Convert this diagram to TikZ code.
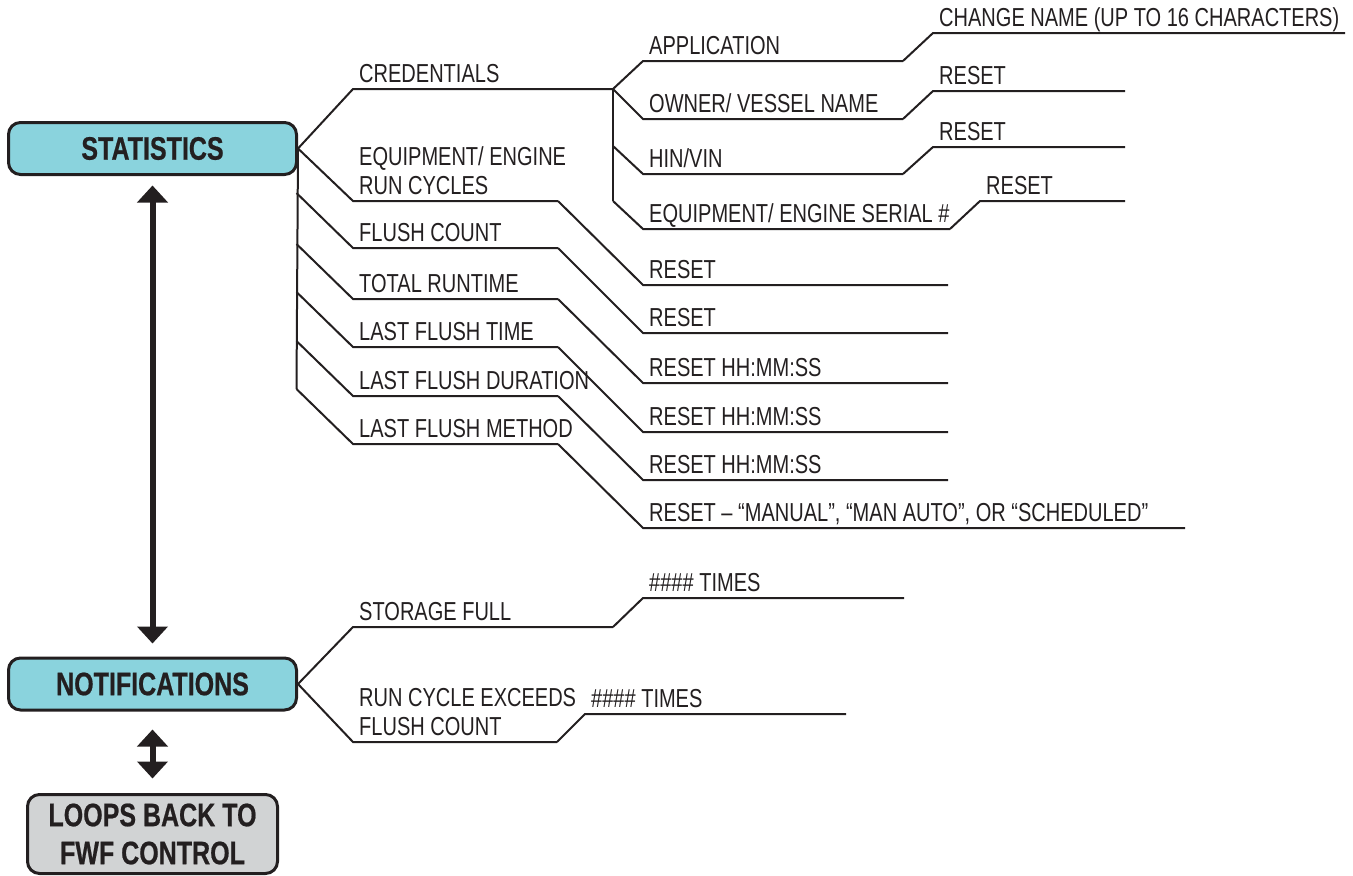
\documentclass[tikz,border=0pt]{standalone}
\usepackage{fontspec}
\setmainfont{Liberation Sans}[FakeStretch=0.77, BoldFeatures={FakeBold=0.6}]
\usetikzlibrary{arrows.meta}

\definecolor{ink}{HTML}{231F20}
\definecolor{statcyan}{HTML}{8AD3DD}
\definecolor{loopgray}{HTML}{D1D3D4}

% one menu entry: name, x start, x end, y of the underline, text
\newcommand{\optline}[5]{%
  \coordinate (#1-s) at (#2,#4);
  \coordinate (#1-e) at (#3,#4);
  \node[itemtext] (#1) at ([xshift=6pt,yshift=7pt]#1-s) {#5};
}

\begin{document}
\begin{tikzpicture}[
    x=1pt, y=-1pt,
    treeline/.style={draw=ink, line width=2pt},
    menubox/.style={draw=ink, line width=3pt, rounded corners=12pt,
      minimum width=288pt, minimum height=52pt, text=ink,
      font=\fontsize{32.5}{38}\selectfont\bfseries},
    itemtext/.style={anchor=base west, inner sep=0pt, text=ink,
      font=\fontsize{26}{29}\selectfont},
    bigarrow/.style={draw=ink, line width=6pt,
      {Triangle[width=30pt,length=17pt]}-{Triangle[width=30pt,length=17pt]}}
  ]

  \useasboundingbox (0,0) rectangle (1353,876);

  \node[menubox, fill=statcyan] (stat) at (152.5,148.5) {STATISTICS};
  \node[menubox, fill=statcyan] (notif) at (152.5,684) {NOTIFICATIONS};
  \node[menubox, fill=loopgray, minimum width=250pt, minimum height=79pt,
    align=center] (loops) at (152.5,834) {LOOPS BACK TO\\FWF CONTROL};

  \draw[bigarrow, shorten <=9.5pt, shorten >=13pt] (stat.south) -- (notif.north);
  \draw[bigarrow, shorten <=18pt, shorten >=14.5pt] (notif.south) -- (loops.north);

  % statistics
  \optline{cred}{353}{613}{89}{CREDENTIALS}
  \optline{erc}{353}{558}{201}{\begin{tabular}[b]{@{}l@{}}EQUIPMENT/ ENGINE\\RUN CYCLES\end{tabular}}
  \optline{fc}{353}{558}{248}{FLUSH COUNT}
  \optline{tr}{353}{558}{299}{TOTAL RUNTIME}
  \optline{lft}{353}{558}{347}{LAST FLUSH TIME}
  \optline{lfd}{353}{558}{396}{LAST FLUSH DURATION}
  \optline{lfm}{353}{558}{444}{LAST FLUSH METHOD}

  \foreach \n/\y in {fc/193,tr/244,lft/292,lfd/341,lfm/389}
    \coordinate (\n-fork) at (296.5,\y);

  \draw[treeline] (stat.east) -- (lfm-fork);
  \draw[treeline] (stat.east) -- (cred-s) -- (cred-e);
  \draw[treeline] (stat.east) -- (erc-s) -- (erc-e);
  \foreach \n in {fc,tr,lft,lfd,lfm}
    \draw[treeline] (\n-fork) -- (\n-s) -- (\n-e);

  \optline{r1}{643}{948}{285}{RESET}
  \optline{r2}{643}{948}{333}{RESET}
  \optline{r3}{643}{948}{383}{RESET HH:MM:SS}
  \optline{r4}{643}{948}{432}{RESET HH:MM:SS}
  \optline{r5}{643}{948}{480}{RESET HH:MM:SS}
  \optline{r6}{643}{1185}{528}{RESET – “MANUAL”, “MAN AUTO”, OR “SCHEDULED”}

  \foreach \p/\c in {erc/r1,fc/r2,tr/r3,lft/r4,lfd/r5,lfm/r6}
    \draw[treeline] (\p-e) -- (\c-s) -- (\c-e);

  % credentials
  \optline{app}{643}{903}{61}{APPLICATION}
  \optline{own}{643}{903}{119}{OWNER/ VESSEL NAME}
  \optline{hin}{643}{903}{174}{HIN/VIN}
  \optline{ser}{643}{950}{229}{EQUIPMENT/ ENGINE SERIAL \#}

  \coordinate (hin-fork) at (613,146);
  \coordinate (ser-fork) at (613,201);

  \draw[treeline] (cred-e) -- (ser-fork);
  \draw[treeline] (cred-e) -- (app-s) -- (app-e);
  \draw[treeline] (cred-e) -- (own-s) -- (own-e);
  \draw[treeline] (hin-fork) -- (hin-s) -- (hin-e);
  \draw[treeline] (ser-fork) -- (ser-s) -- (ser-e);

  \optline{chg}{933}{1345}{33}{CHANGE NAME (UP TO 16 CHARACTERS)}
  \optline{ro}{933}{1125}{91}{RESET}
  \optline{rh}{933}{1125}{147}{RESET}
  \optline{rs}{980}{1125}{201}{RESET}

  \foreach \p/\c in {app/chg,own/ro,hin/rh,ser/rs}
    \draw[treeline] (\p-e) -- (\c-s) -- (\c-e);

  % notifications
  \optline{sf}{353}{613}{627}{STORAGE FULL}
  \optline{rce}{353}{557}{742}{\begin{tabular}[b]{@{}l@{}}RUN CYCLE EXCEEDS\\FLUSH COUNT\end{tabular}}
  \optline{t1}{643}{904}{598}{\#\#\#\# TIMES}
  \optline{t2}{585}{846}{714}{\#\#\#\# TIMES}

  \draw[treeline] (notif.east) -- (sf-s) -- (sf-e);
  \draw[treeline] (notif.east) -- (rce-s) -- (rce-e);
  \draw[treeline] (sf-e) -- (t1-s) -- (t1-e);
  \draw[treeline] (rce-e) -- (t2-s) -- (t2-e);

\end{tikzpicture}
\end{document}
